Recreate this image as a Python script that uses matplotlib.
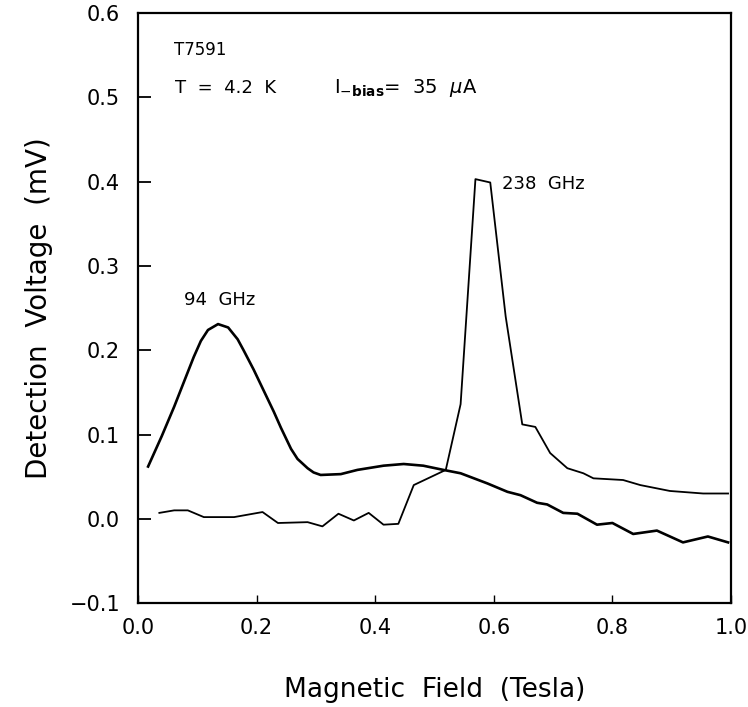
import matplotlib
matplotlib.use("Agg")
import matplotlib.pyplot as plt

# 94 GHz response (Tesla, mV)
x94 = [0.017, 0.040, 0.061, 0.080, 0.094, 0.106, 0.118, 0.135, 0.152, 0.168,
       0.178, 0.195, 0.212, 0.229, 0.241, 0.258, 0.269, 0.286, 0.296, 0.308,
       0.342, 0.370, 0.414, 0.448, 0.481, 0.515, 0.544, 0.589, 0.623, 0.645,
       0.673, 0.690, 0.717, 0.741, 0.774, 0.800, 0.835, 0.875, 0.919, 0.961,
       0.995]
y94 = [0.062, 0.098, 0.133, 0.167, 0.192, 0.211, 0.224, 0.231, 0.227, 0.213,
       0.200, 0.177, 0.152, 0.127, 0.108, 0.083, 0.071, 0.060, 0.055, 0.052,
       0.053, 0.058, 0.063, 0.065, 0.063, 0.058, 0.054, 0.042, 0.032, 0.028,
       0.019, 0.017, 0.007, 0.006, -0.007, -0.005, -0.018, -0.014, -0.028, -0.021,
       -0.028]

# 238 GHz response (Tesla, mV)
x238 = [0.036, 0.061, 0.084, 0.111, 0.162, 0.210, 0.236, 0.286, 0.311, 0.338,
        0.364, 0.389, 0.414, 0.439, 0.465, 0.519, 0.544, 0.569, 0.594, 0.620,
        0.648, 0.670, 0.695, 0.724, 0.751, 0.768, 0.818, 0.847, 0.897, 0.953,
        0.995]
y238 = [0.007, 0.010, 0.010, 0.002, 0.002, 0.008, -0.005, -0.004, -0.009, 0.006,
        -0.002, 0.007, -0.007, -0.006, 0.040, 0.058, 0.136, 0.403, 0.399, 0.240,
        0.112, 0.109, 0.078, 0.060, 0.054, 0.048, 0.046, 0.040, 0.033, 0.030,
        0.030]

xticks = [0.0, 0.2, 0.4, 0.6, 0.8, 1.0]
xticklabels = ["0.0", "0.2", "0.4", "0.6", "0.8", "1.0"]
yticks = [-0.1, 0.0, 0.1, 0.2, 0.3, 0.4, 0.5, 0.6]
yticklabels = ["\u22120.1", "0.0", "0.1", "0.2", "0.3", "0.4", "0.5", "0.6"]

fig = plt.figure(figsize=(7.48, 7.07), dpi=100)
ax = fig.add_axes([0.1845, 0.147, 0.7928, 0.8345])

ax.plot(x94, y94, color="black", lw=1.9, solid_joinstyle="round")
ax.plot(x238, y238, color="black", lw=1.3, solid_joinstyle="round")

ax.set_xlim(0.0, 1.0)
ax.set_ylim(-0.1, 0.6)
ax.set_xticks(xticks)
ax.set_xticklabels(xticklabels, fontsize=15)
ax.set_yticks(yticks)
ax.set_yticklabels(yticklabels, fontsize=15)
ax.tick_params(axis="y", direction="in", length=9, width=1.3, pad=13)
ax.tick_params(axis="x", direction="in", length=6, width=1.0, pad=11)
for s in ax.spines.values():
    s.set_linewidth(1.6)

ax.set_xlabel("Magnetic  Field  (Tesla)", fontsize=19, labelpad=28)
ax.set_ylabel("Detection  Voltage  (mV)", fontsize=20, labelpad=12)

ax.text(0.060, 0.556, "T7591", fontsize=12, ha="left", va="center")
ax.text(0.062, 0.511, "T  =  4.2  K", fontsize=13, ha="left", va="center")
ax.text(0.330, 0.511, r"I$_{-\mathbf{bias}}$=  35  $\mu$A", fontsize=14, ha="left", va="center")
ax.text(0.077, 0.260, "94  GHz", fontsize=13, ha="left", va="center")
ax.text(0.614, 0.397, "238  GHz", fontsize=13, ha="left", va="center")

fig.savefig("out.png", dpi=100)
